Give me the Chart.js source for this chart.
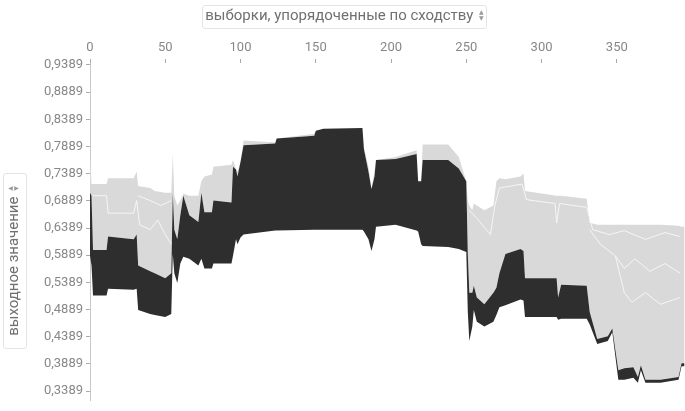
<!DOCTYPE html>
<html lang="ru">
<head>
<meta charset="utf-8">
<title>выходное значение</title>
<script src="https://cdn.jsdelivr.net/npm/chart.js@4.4.1/dist/chart.umd.min.js"></script>
<style>
    html, body { margin: 0; padding: 0; background: #fff; }
    #wrap { position: relative; width: 685px; height: 411px; overflow: hidden; }
    #forceChart { position: absolute; left: 0; top: 0; }
    .axis-select {
        position: absolute;
        height: 22px;
        line-height: 22px;
        border: 1px solid #e4e4e4;
        border-radius: 3px;
        font: 15px Roboto, sans-serif;
        color: #707070;
        text-align: center;
        white-space: nowrap;
        background: #fff;
    }
    .arrows {
        display: inline-block;
        vertical-align: middle;
        font: 6px "DejaVu Sans", sans-serif;
        line-height: 6px;
        color: #999;
        margin-left: 2px;
        margin-top: -3px;
    }
    #xTitle { left: 202px; top: 5px; width: 283px; }
    #yTitle { left: -73px; top: 249px; width: 174px; transform: rotate(-90deg); }
</style>
</head>
<body>
<div id="wrap">
    <canvas id="forceChart" width="685" height="411"></canvas>
    <div id="xTitle" class="axis-select">выборки, упорядоченные по сходству <span class="arrows">▲<br>▼</span></div>
    <div id="yTitle" class="axis-select">выходное значение <span class="arrows">▲<br>▼</span></div>
</div>
<script>
// sample index (ordered by similarity) at each break point
const sampleIdx = [0, 1, 2, 11, 12, 29, 31, 32, 40, 43, 50, 54, 55, 56, 58, 60, 62, 66, 72, 74,
    76, 81, 82, 94, 95, 97, 98, 100, 102, 123, 124, 149, 150, 155, 181, 182, 185, 187, 189, 190,
    203, 217, 218, 220, 221, 238, 245, 250, 251, 252, 254, 255, 257, 262, 268, 270, 272, 276, 286, 288,
    289, 310, 311, 313, 330, 332, 337, 344, 347, 351, 355, 361, 364, 366, 369, 379, 391, 393, 395];

// top of the light (lowering features) band
const upperVals = [0.7749, 0.7197, 0.7197, 0.7197, 0.7303, 0.7303, 0.7428, 0.7161, 0.7125, 0.7072,
    0.7036, 0.7036, 0.7749, 0.6983, 0.6804, 0.6893, 0.7018, 0.6983, 0.6983, 0.7250,
    0.7339, 0.7375, 0.7517, 0.7553, 0.7642, 0.7482, 0.7428, 0.7607, 0.7999, 0.7963,
    0.8034, 0.8123, 0.8177, 0.8213, 0.8230, 0.7874, 0.7517, 0.7107, 0.7428, 0.7642,
    0.7696, 0.7820, 0.7250, 0.7250, 0.7927, 0.7927, 0.7696, 0.7250, 0.6893, 0.6804,
    0.6715, 0.6840, 0.6804, 0.6715, 0.6804, 0.7250, 0.7303, 0.7286, 0.7339, 0.7393,
    0.7072, 0.6983, 0.6983, 0.6983, 0.6929, 0.6484, 0.6448, 0.6448, 0.6448, 0.6448,
    0.6448, 0.6448, 0.6448, 0.6448, 0.6448, 0.6448, 0.6430, 0.6412, 0.6412];

// model output (border between dark and light bands)
const outputVals = [0.7036, 0.6983, 0.5984, 0.5984, 0.6234, 0.6180, 0.6270, 0.5699, 0.5592, 0.5557,
    0.5467, 0.5557, 0.7036, 0.6359, 0.6180, 0.6626, 0.6983, 0.6626, 0.6501, 0.7036,
    0.6680, 0.6680, 0.6893, 0.6858, 0.7517, 0.7464, 0.7339, 0.7607, 0.7910, 0.7945,
    0.8034, 0.8088, 0.8177, 0.8213, 0.8230, 0.7838, 0.7428, 0.7107, 0.7339, 0.7642,
    0.7660, 0.7749, 0.7250, 0.7250, 0.7642, 0.7642, 0.7482, 0.7250, 0.5913, 0.5200,
    0.5200, 0.5325, 0.5111, 0.4986, 0.5200, 0.5289, 0.5557, 0.5913, 0.6002, 0.5967,
    0.5467, 0.5467, 0.5111, 0.5343, 0.5325, 0.4844, 0.4345, 0.4398, 0.4541, 0.3774,
    0.3810, 0.3828, 0.3649, 0.3863, 0.3596, 0.3596, 0.3649, 0.3899, 0.3899];

// bottom of the dark (raising features) band
const lowerVals = [0.5877, 0.5699, 0.5147, 0.5147, 0.5271, 0.5254, 0.5271, 0.4879, 0.4808, 0.4790,
    0.4754, 0.4808, 0.5913, 0.5557, 0.5378, 0.5735, 0.5860, 0.5824, 0.5699, 0.5824,
    0.5646, 0.5646, 0.5735, 0.5735, 0.5877, 0.6180, 0.6091, 0.6216, 0.6270, 0.6341,
    0.6341, 0.6359, 0.6359, 0.6359, 0.6359, 0.6323, 0.6180, 0.5967, 0.6180, 0.6412,
    0.6448, 0.6341, 0.6323, 0.6091, 0.6056, 0.6038, 0.6002, 0.5949, 0.4844, 0.4309,
    0.4576, 0.4879, 0.4665, 0.4576, 0.4665, 0.4790, 0.4933, 0.4968, 0.5075, 0.5057,
    0.4754, 0.4754, 0.4701, 0.4719, 0.4719, 0.4612, 0.4255, 0.4309, 0.4469, 0.3596,
    0.3596, 0.3632, 0.3542, 0.3774, 0.3542, 0.3542, 0.3596, 0.3845, 0.3845];

// white separators between single features inside the light band
const sepLeftIdx = [2, 11, 12, 29, 31, 33, 40, 45, 50, 54];
const sepLeftVals = [0.6983, 0.6983, 0.6662, 0.6662, 0.6893, 0.6448, 0.6359, 0.6537, 0.6270, 0.6091];
const sepLeftTopIdx = [32, 40, 47, 54];
const sepLeftTopVals = [0.6983, 0.6893, 0.6804, 0.6893];
const sepRightIdx = [252, 258, 266, 269, 272, 287, 290, 309, 310, 312, 330, 334, 345, 355, 369, 382, 392];
const sepRightVals = [0.6715, 0.6537, 0.6269, 0.6804, 0.7125, 0.7197, 0.6911, 0.6840, 0.6484, 0.6840,
    0.6769, 0.6359, 0.6269, 0.6341, 0.6180, 0.6305, 0.6234];
const sepMidIdx = [332, 339, 349, 355, 362, 372, 382, 392];
const sepMidVals = [0.6359, 0.6091, 0.5877, 0.5646, 0.5824, 0.5592, 0.5735, 0.5557];
const sepLowIdx = [349, 355, 360, 369, 379, 392];
const sepLowVals = [0.5877, 0.5200, 0.5022, 0.5200, 0.4986, 0.5111];

const xTicks = [0, 50, 100, 150, 200, 250, 300, 350];
const yTicks = [0.3389, 0.3889, 0.4389, 0.4889, 0.5389, 0.5889, 0.6389, 0.6889, 0.7389, 0.7889, 0.8389, 0.8889, 0.9389];

const DARK = '#2e2e2e';
const LIGHT = '#d9d9d9';
const TICK_FONT = { family: 'Roboto', size: 13 };

class ForcePlot {
    constructor(canvasId) {
        this.ctx = document.getElementById(canvasId).getContext('2d');
        this.render();
    }

    toPoints(idx, values) {
        return idx.map((s, i) => ({ x: s, y: values[i] }));
    }

    band(label, values, fill, color) {
        return {
            label: label,
            data: this.toPoints(sampleIdx, values),
            order: 1,
            borderWidth: 0,
            borderColor: 'rgba(0,0,0,0)',
            backgroundColor: color,
            pointRadius: 0,
            fill: fill,
            tension: 0
        };
    }

    separator(label, idx, values) {
        return {
            label: label,
            data: this.toPoints(idx, values),
            order: 0,
            borderWidth: 1,
            borderColor: 'rgba(248,248,248,0.9)',
            pointRadius: 0,
            fill: false,
            tension: 0
        };
    }

    render() {
        new Chart(this.ctx, {
            type: 'line',
            data: {
                datasets: [
                    this.band('lower', lowerVals, false, 'rgba(0,0,0,0)'),
                    this.band('output', outputVals, '-1', DARK),
                    this.band('upper', upperVals, '-1', LIGHT),
                    this.separator('sepLeft', sepLeftIdx, sepLeftVals),
                    this.separator('sepLeftTop', sepLeftTopIdx, sepLeftTopVals),
                    this.separator('sepRight', sepRightIdx, sepRightVals),
                    this.separator('sepMid', sepMidIdx, sepMidVals),
                    this.separator('sepLow', sepLowIdx, sepLowVals)
                ]
            },
            options: {
                responsive: false,
                animation: false,
                devicePixelRatio: 1,
                layout: { padding: 0 },
                plugins: {
                    legend: { display: false },
                    tooltip: { enabled: false }
                },
                scales: {
                    x: {
                        type: 'linear',
                        position: 'top',
                        min: 0,
                        max: 395.3,
                        afterBuildTicks: (scale) => { scale.ticks = xTicks.map(v => ({ value: v })); },
                        afterFit: (scale) => { scale.height = 63; },
                        border: { display: false },
                        grid: { drawOnChartArea: false, drawTicks: true, tickLength: 4, color: '#aaa' },
                        ticks: { color: '#888', font: TICK_FONT, padding: 3, maxRotation: 0 }
                    },
                    y: {
                        type: 'linear',
                        min: 0.3221,
                        max: 0.9425,
                        afterBuildTicks: (scale) => { scale.ticks = yTicks.map(v => ({ value: v })); },
                        afterFit: (scale) => { scale.width = 90; },
                        border: { display: true, color: '#c8c8c8', width: 1 },
                        grid: { drawOnChartArea: false, drawTicks: true, tickLength: 4, color: '#aaa' },
                        ticks: {
                            color: '#888',
                            font: TICK_FONT,
                            padding: 3,
                            callback: (v) => v.toFixed(4).replace('.', ',')
                        }
                    }
                }
            }
        });
    }
}

window.addEventListener('load', () => {
    new ForcePlot('forceChart');
});
</script>
</body>
</html>
